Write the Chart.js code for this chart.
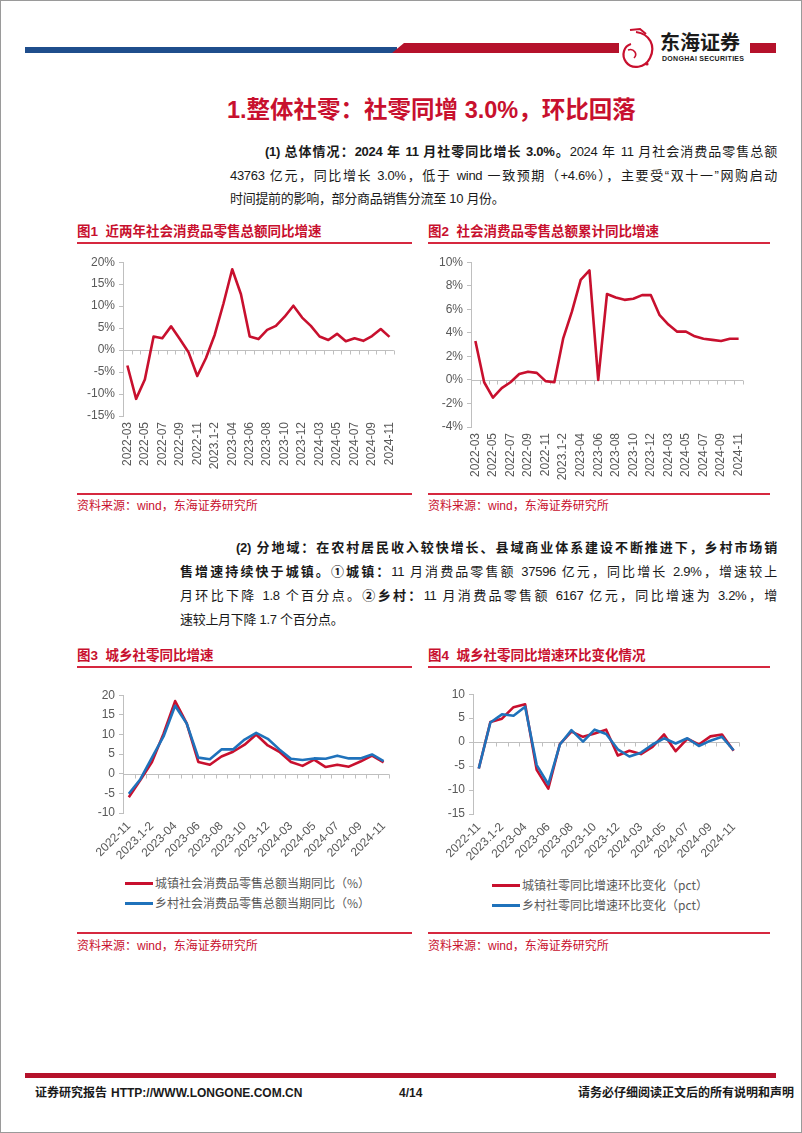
<!DOCTYPE html>
<html>
<head>
<meta charset="utf-8">
<script src="https://cdn.jsdelivr.net/npm/chart.js@4.4.1/dist/chart.umd.min.js"></script>
<style>
html, body { margin: 0; padding: 0; background: #fff; }
#page { position: relative; width: 802px; height: 1133px; overflow: hidden;
  font-family: "Liberation Sans Narrow", "Liberation Sans", "Noto Sans CJK SC", sans-serif; color: #1a1a1a; }
#frame { position: absolute; left: 0; top: 0; width: 800px; height: 1131px; border: 1px solid #9a9a9a; }
.txt { position: absolute; font-size: 13px; line-height: 20px; letter-spacing: -0.3px; }
.just { text-align: justify; text-align-last: justify; }
b { font-weight: bold; }
.figt { position: absolute; font-family: "Liberation Sans", "Noto Sans CJK SC", sans-serif; font-weight: bold;
  font-size: 13.5px; line-height: 18px; color: #c8102e; white-space: nowrap; }
.rule { position: absolute; height: 2px; background: #d6283f; }
.src { position: absolute; font-family: "Liberation Sans", "Noto Sans CJK SC", sans-serif; font-size: 12px;
  line-height: 16px; color: #c8102e; white-space: nowrap; }
.leg { position: absolute; font-family: "Noto Sans CJK SC", sans-serif; font-size: 12px; line-height: 16px;
  color: #595959; white-space: nowrap; }
.leg i { display: inline-block; width: 28px; height: 3px; vertical-align: middle; margin-right: 2px; position: relative; top: -1px; }
canvas { position: absolute; }
.foot { position: absolute; top: 1085px; font-family: "Liberation Sans Narrow", "Liberation Sans", "Noto Sans CJK SC", sans-serif;
  font-weight: bold; font-size: 12px; line-height: 16px; color: #1a1a1a; white-space: nowrap; }
</style>
</head>
<body>
<div id="page">
  <div id="frame"></div>

  <!-- header bars and logo -->
  <div style="position:absolute;left:25px;top:47px;width:372px;height:6px;background:#1f4e8c;"></div>
  <svg style="position:absolute;left:0;top:0;" width="802" height="90">
    <polygon points="404,43 619,43 619,53 392,53" fill="#b5122b"/>
    <rect x="750" y="43" width="26" height="10" fill="#b5122b"/>
    <path d="M636,32 C650,34 656,46 650,58 C645,68 632,70 626,62 C621,55 624,46 631,44" fill="none" stroke="#c8102e" stroke-width="2.2"/>
    <path d="M630,30 L640,29 L646,34" fill="none" stroke="#c8102e" stroke-width="2"/>
    <path d="M628,50 C634,48 638,54 634,58" fill="none" stroke="#c8102e" stroke-width="1.6"/>
    <circle cx="647" cy="64" r="1.6" fill="#c8102e"/>
    <text x="660" y="50" font-family="Noto Sans CJK SC" font-weight="bold" font-size="20" fill="#1b1b1b">东海证券</text>
    <text x="662" y="61" font-family="Liberation Sans" font-weight="bold" font-size="7" fill="#1b1b1b" textLength="82">DONGHAI SECURITIES</text>
  </svg>

  <!-- section title -->
  <div style="position:absolute;left:227px;top:95px;font-family:'Liberation Sans','Noto Sans CJK SC',sans-serif;font-weight:bold;font-size:23.5px;line-height:30px;color:#c8102e;white-space:nowrap;">1.整体社零：社零同增 3.0%，环比回落</div>

  <!-- paragraph 1 -->
  <div class="txt just" style="left:265px;top:142px;width:512px;"><b>(1) 总体情况：2024 年 11 月社零同比增长 3.0%。</b>2024 年 11 月社会消费品零售总额</div>
  <div class="txt just" style="left:230px;top:166px;width:547px;">43763 亿元，同比增长 3.0%，低于 wind 一致预期（+4.6%），主要受“双十一”网购启动</div>
  <div class="txt" style="left:230px;top:189px;white-space:nowrap;">时间提前的影响，部分商品销售分流至 10 月份。</div>

  <!-- figure 1 / 2 titles -->
  <div class="figt" style="left:77px;top:223px;">图1&nbsp; 近两年社会消费品零售总额同比增速</div>
  <div class="rule" style="left:77px;top:242px;width:335px;"></div>
  <div class="figt" style="left:428px;top:223px;">图2&nbsp; 社会消费品零售总额累计同比增速</div>
  <div class="rule" style="left:428px;top:242px;width:342px;"></div>

  <canvas id="c1" width="350" height="220" style="left:60px;top:251px;"></canvas>
  <canvas id="c2" width="350" height="230" style="left:410px;top:251px;"></canvas>

  <div class="rule" style="left:77px;top:493px;width:335px;"></div>
  <div class="src" style="left:77px;top:498px;">资料来源：wind，东海证券研究所</div>
  <div class="rule" style="left:428px;top:493px;width:342px;"></div>
  <div class="src" style="left:428px;top:498px;">资料来源：wind，东海证券研究所</div>

  <!-- paragraph 2 -->
  <div class="txt just" style="left:236px;top:538px;width:541px;"><b>(2) 分地域：在农村居民收入较快增长、县域商业体系建设不断推进下，乡村市场销</b></div>
  <div class="txt just" style="left:180px;top:562px;width:597px;"><b>售增速持续快于城镇。①城镇：</b>11 月消费品零售额 37596 亿元，同比增长 2.9%，增速较上</div>
  <div class="txt just" style="left:180px;top:586px;width:597px;">月环比下降 1.8 个百分点。<b>②乡村：</b>11 月消费品零售额 6167 亿元，同比增速为 3.2%，增</div>
  <div class="txt" style="left:180px;top:610px;white-space:nowrap;">速较上月下降 1.7 个百分点。</div>

  <!-- figure 3 / 4 titles -->
  <div class="figt" style="left:77px;top:647px;">图3&nbsp; 城乡社零同比增速</div>
  <div class="rule" style="left:77px;top:666px;width:335px;"></div>
  <div class="figt" style="left:428px;top:647px;">图4&nbsp; 城乡社零同比增速环比变化情况</div>
  <div class="rule" style="left:428px;top:666px;width:342px;"></div>

  <canvas id="c3" width="340" height="180" style="left:60px;top:684px;"></canvas>
  <canvas id="c4" width="340" height="180" style="left:410px;top:683px;"></canvas>

  <div id="leg3a" class="leg" style="left:125px;top:875px;"></div>
  <div id="leg3b" class="leg" style="left:125px;top:895px;"></div>
  <div id="leg4a" class="leg" style="left:492px;top:877px;"></div>
  <div id="leg4b" class="leg" style="left:492px;top:897px;"></div>

  <div class="rule" style="left:77px;top:932px;width:335px;"></div>
  <div class="src" style="left:77px;top:938px;">资料来源：wind，东海证券研究所</div>
  <div class="rule" style="left:428px;top:932px;width:342px;"></div>
  <div class="src" style="left:428px;top:938px;">资料来源：wind，东海证券研究所</div>

  <!-- footer -->
  <div style="position:absolute;left:25px;top:1073px;width:751px;height:5px;background:#b5122b;"></div>
  <div class="foot" style="left:35px;">证券研究报告</div>
  <div class="foot" style="left:111px;">HTTP://WWW.LONGONE.COM.CN</div>
  <div class="foot" style="left:399px;">4/14</div>
  <div class="foot" style="left:578px;">请务必仔细阅读正文后的所有说明和声明</div>
</div>

<script>
// categories
const months1 = ['2022-03', '2022-04', '2022-05', '2022-06', '2022-07', '2022-08', '2022-09', '2022-10', '2022-11', '2022-12',
  '2023.1-2', '2023-03', '2023-04', '2023-05', '2023-06', '2023-07', '2023-08', '2023-09', '2023-10', '2023-11', '2023-12',
  '2024.1-2', '2024-03', '2024-04', '2024-05', '2024-06', '2024-07', '2024-08', '2024-09', '2024-10', '2024-11'];
const months2 = ['2022-11', '2022-12',
  '2023.1-2', '2023-03', '2023-04', '2023-05', '2023-06', '2023-07', '2023-08', '2023-09', '2023-10', '2023-11', '2023-12',
  '2024.1-2', '2024-03', '2024-04', '2024-05', '2024-06', '2024-07', '2024-08', '2024-09', '2024-10', '2024-11'];

// fig 1: retail sales yoy, monthly (%)
const retailYoy = [-3.5, -11.1, -6.7, 3.1, 2.7, 5.4, 2.5, -0.5, -5.9, -1.8,
  3.5, 10.6, 18.4, 12.7, 3.1, 2.5, 4.6, 5.5, 7.6, 10.1, 7.4,
  5.5, 3.1, 2.3, 3.7, 2.0, 2.7, 2.1, 3.2, 4.8, 3.0];
// fig 2: retail sales yoy, cumulative (%)
const retailCum = [3.3, -0.2, -1.5, -0.7, -0.2, 0.5, 0.7, 0.6, -0.1, -0.2,
  3.5, 5.8, 8.5, 9.3, 0.0, 7.3, 7.0, 6.8, 6.9, 7.2, 7.2,
  5.5, 4.7, 4.1, 4.1, 3.7, 3.5, 3.4, 3.3, 3.5, 3.5];
// fig 3: urban / rural yoy
const urbanYoy = [-6.0, -1.6, 3.0, 10.2, 18.5, 12.8, 3.0, 2.3, 4.4, 5.6, 7.4, 10.0, 7.2,
  5.6, 3.0, 2.0, 3.6, 1.7, 2.3, 1.8, 3.1, 4.6, 2.9];
const ruralYoy = [-5.1, -1.4, 4.1, 9.5, 17.3, 12.8, 4.1, 3.7, 6.2, 6.2, 8.7, 10.4, 8.9,
  6.2, 3.8, 3.5, 3.9, 3.8, 4.6, 3.9, 3.9, 4.9, 3.2];
// fig 4: month-on-month change of yoy growth (pct)
const urbanChg = [-5.5, 4.2, 4.9, 7.3, 7.9, -5.8, -9.7, -0.4, 2.2, 1.1, 1.8, 2.6, -2.8,
  -1.8, -2.5, -1.0, 1.6, -1.9, 0.7, -0.5, 1.2, 1.6, -1.8];
const ruralChg = [-5.5, 4.1, 5.8, 5.5, 7.4, -4.8, -8.8, -0.5, 2.5, 0.1, 2.6, 1.7, -1.5,
  -3.0, -2.2, -0.5, 0.8, -0.3, 0.8, -0.8, 0.3, 1.1, -1.7];

const seriesNames3 = ['城镇社会消费品零售总额当期同比（%）', '乡村社会消费品零售总额当期同比（%）'];
const seriesNames4 = ['城镇社零同比增速环比变化（pct）', '乡村社零同比增速环比变化（pct）'];

const RED = '#c8102e';
const BLUE = '#1f72bb';

// axis line at zero with small category ticks
const zeroLine = {
    id: 'zeroLine',
    beforeDatasetsDraw(chart) {
        const {ctx, chartArea: a, scales: {y}} = chart;
        const y0 = Math.round(y.getPixelForValue(0)) + 0.5;
        const n = chart.data.labels.length;
        ctx.save();
        ctx.strokeStyle = '#bfbfbf';
        ctx.lineWidth = 1;
        ctx.beginPath();
        ctx.moveTo(a.left, y0);
        ctx.lineTo(a.right, y0);
        for (let i = 0; i <= n; i++) {
            const px = Math.round(a.left + i * (a.right - a.left) / n) + 0.5;
            ctx.moveTo(px, y0);
            ctx.lineTo(px, y0 + 4);
        }
        ctx.stroke();
        ctx.restore();
    }
};

function makeChart(id, labels, series, o) {
    return new Chart(document.getElementById(id), {
        type: 'line',
        data: {
            labels: labels,
            datasets: series.map(s => ({
                label: s.name,
                data: s.data,
                borderColor: s.color,
                backgroundColor: s.color,
                borderWidth: 2.6,
                pointRadius: 0,
                tension: 0,
                fill: false,
                order: s.order || 0,
                borderJoinStyle: 'round'
            }))
        },
        options: {
            responsive: false,
            animation: false,
            layout: { padding: o.pad },
            plugins: { legend: { display: false }, tooltip: { enabled: false } },
            scales: {
                x: {
                    offset: true,
                    grid: { display: false, drawTicks: false },
                    border: { display: false },
                    ticks: {
                        autoSkip: false,
                        minRotation: o.rot,
                        maxRotation: o.rot,
                        padding: o.xPad,
                        color: '#595959',
                        font: { family: 'Liberation Sans', size: 12 },
                        callback: (v, i) => i % 2 === 0 ? labels[i] : ''
                    },
                    afterFit: s => { s.height = o.xH; }
                },
                y: {
                    min: o.min,
                    max: o.max,
                    grid: { display: true, drawOnChartArea: false, drawTicks: true, tickLength: 4, color: '#bfbfbf' },
                    border: { display: true, color: '#bfbfbf' },
                    ticks: {
                        stepSize: o.step,
                        padding: 4,
                        color: '#595959',
                        font: { family: 'Liberation Sans', size: 12 },
                        callback: v => v + o.suffix
                    },
                    afterFit: s => { s.width = o.yW; }
                }
            }
        },
        plugins: [zeroLine]
    });
}

makeChart('c1', months1, [{ name: '社会消费品零售总额同比', data: retailYoy, color: RED }],
    { min: -15, max: 20, step: 5, suffix: '%', rot: 90, xPad: 6, xH: 55, yW: 63, pad: { top: 0, right: 7, left: 0, bottom: 0 } });
makeChart('c2', months1, [{ name: '社会消费品零售总额累计同比', data: retailCum, color: RED }],
    { min: -4, max: 10, step: 2, suffix: '%', rot: 90, xPad: 6, xH: 54, yW: 61, pad: { top: 0, right: 17, left: 0, bottom: 0 } });
makeChart('c3', months2, [
    { name: seriesNames3[0], data: urbanYoy, color: RED, order: 1 },
    { name: seriesNames3[1], data: ruralYoy, color: BLUE, order: 0 }],
    { min: -10, max: 20, step: 5, suffix: '', rot: 45, xPad: 6, xH: 51, yW: 63, pad: { top: 0, right: 10, left: 0, bottom: 0 } });
makeChart('c4', months2, [
    { name: seriesNames4[0], data: urbanChg, color: RED, order: 1 },
    { name: seriesNames4[1], data: ruralChg, color: BLUE, order: 0 }],
    { min: -15, max: 10, step: 5, suffix: '', rot: 45, xPad: 6, xH: 49, yW: 63, pad: { top: 0, right: 10, left: 0, bottom: 0 } });

// legends
function legend(elId, name, color) {
    document.getElementById(elId).innerHTML = '<i style="background:' + color + '"></i>' + name;
}
legend('leg3a', seriesNames3[0], RED);
legend('leg3b', seriesNames3[1], BLUE);
legend('leg4a', seriesNames4[0], RED);
legend('leg4b', seriesNames4[1], BLUE);
</script>
</body>
</html>
